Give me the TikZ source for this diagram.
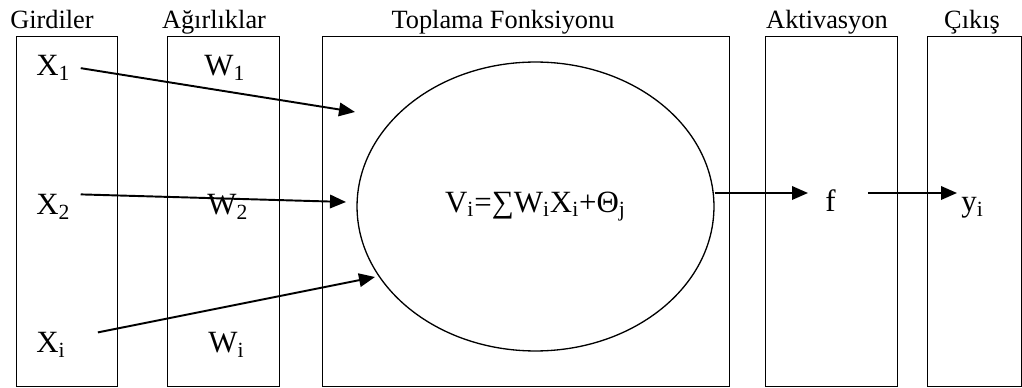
\documentclass[tikz,border=0pt]{standalone}
\usepackage{fontspec}
\setmainfont{Liberation Serif}
\usetikzlibrary{shapes.geometric, arrows.meta, positioning}

\begin{document}
\begin{tikzpicture}[
    x=0.02cm, y=-0.02cm,
    >={Triangle[length=0.32cm, width=0.27cm]},
    % --- node styles ---
    panel/.style={
        rectangle, draw, line width=0.75pt, anchor=north west,
        inner sep=0pt, minimum height=7cm
    },
    heading/.style={font=\fontsize{15}{17}\selectfont, anchor=base, inner sep=0pt},
    term/.style={font=\fontsize{17.6}{20}\selectfont, anchor=base west, inner sep=0pt},
    sumnode/.style={
        ellipse, draw, line width=0.75pt, minimum width=7.14cm, minimum height=5.78cm,
        font=\fontsize{17.6}{20}\selectfont, inner sep=0pt
    },
    arrow/.style={->, line width=1.1pt},
]
\useasboundingbox (0,0) rectangle (1022,388);

% ===== PANELS =====
\node[panel, minimum width=2.02cm] (inbox) at (16,36) {};
\node[panel, minimum width=2.24cm] (wbox) at (167,36) {};
\node[panel, minimum width=8.14cm] (sumbox) at (322,36) {};
\node[panel, minimum width=2.64cm] (actbox) at (765,36) {};
\node[panel, minimum width=1.88cm] (outbox) at (927,36) {};

% ===== HEADINGS =====
\node[heading] (tin) at (52,29) {Girdiler};
\node[heading] (tw) at (214,29) {Ağırlıklar};
\node[heading] (tsum) at (503,29) {Toplama Fonksiyonu};
\node[heading] (tact) at (827,29) {Aktivasyon};
\node[heading] (tout) at (972,29) {Çıkış};

% ===== INPUTS AND WEIGHTS =====
\node[term] (x1) at (36,76) {X\textsubscript{1}};
\node[term] (x2) at (36,215) {X\textsubscript{2}};
\node[term] (xi) at (36,353) {X\textsubscript{i}};
\node[term] (w1) at (204,76) {W\textsubscript{1}};
\node[term] (w2) at (207,215) {W\textsubscript{2}};
\node[term] (wi) at (208,353) {W\textsubscript{i}};

% ===== SUM, ACTIVATION, OUTPUT =====
\node[sumnode] (sum) at (535.5,206.5)
    {V\textsubscript{i}=∑W\textsubscript{i}X\textsubscript{i}+Θ\textsubscript{j}};
\node[term] (f) at (825,212) {f};
\node[term] (y) at (961,212) {y\textsubscript{i}};

% arrow tips
\coordinate (tipone) at (355,112);
\coordinate (tiptwo) at (346,202);
\coordinate (tipi) at (375,277);
\coordinate (tipf) at (808,193);
\coordinate (tipy) at (957,193);

\draw[arrow] ([xshift=0.2cm]x1.east) -- (tipone);
\draw[arrow] ([xshift=0.2cm]x2.north east) -- (tiptwo);
\draw[arrow] ([xshift=0.64cm]xi.north east) -- (tipi);
\draw[arrow] (sum.east |- tipf) -- (tipf);
\draw[arrow, shorten <=0.64cm] (f.east |- tipy) -- (tipy);

\end{tikzpicture}
\end{document}
